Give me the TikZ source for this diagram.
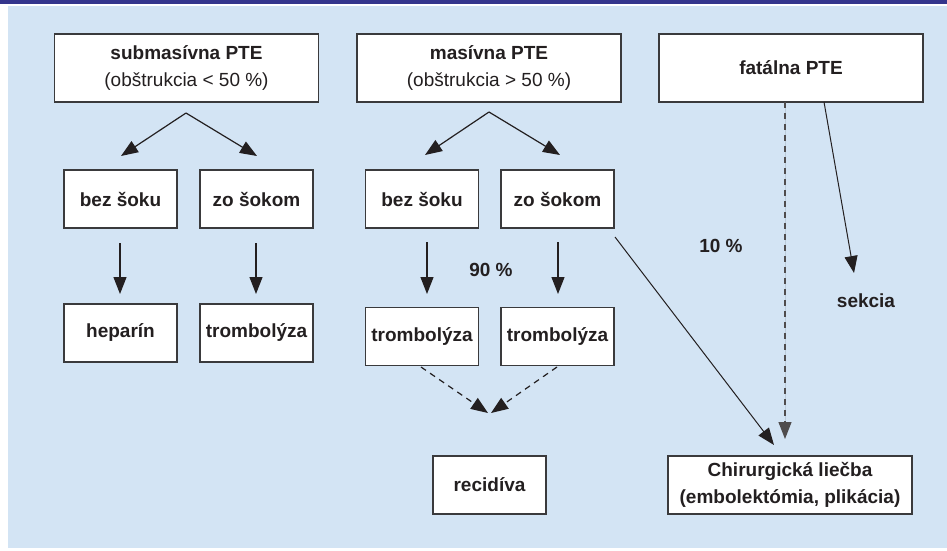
\documentclass[tikz,border=0pt]{standalone}
\usepackage{fontspec}
\setmainfont{Liberation Sans}
\usetikzlibrary{arrows.meta}
\definecolor{panelblue}{HTML}{D3E4F4}
\definecolor{barblue}{HTML}{34358C}
\definecolor{ink}{HTML}{231F20}
\definecolor{boxline}{HTML}{3A3A3C}
\begin{document}
\begin{tikzpicture}[x=1pt,y=-1pt,
  box/.style={draw=boxline,line width=1.4pt,fill=white,rectangle,inner sep=0pt,
    align=center,text=ink,font=\fontsize{19}{27}\selectfont\bfseries},
  small/.style={box,minimum width=113pt,minimum height=58pt},
  big/.style={box,minimum width=264pt,minimum height=68pt},
  arr/.style={draw=ink,line width=1.2pt,-{Triangle[length=17pt,width=13pt]}},
  darr/.style={arr,dash pattern=on 6pt off 5pt},
  lbl/.style={text=ink,font=\fontsize{19}{23}\selectfont\bfseries,inner sep=0pt}]
\useasboundingbox (0,0) rectangle (947,551);
\fill[white] (0,0) rectangle (947,551);
\fill[panelblue] (8,6) rectangle (947,548);
\fill[barblue] (0,0) rectangle (947,4);
% top boxes
\node[big] (sub) at (186.5,68) {submasívna PTE\\{\mdseries(obštrukcia < 50 \%)}};
\node[big] (mas) at (489,68) {masívna PTE\\{\mdseries(obštrukcia > 50 \%)}};
\node[big] (fat) at (791,68) {fatálna PTE};
% left column
\node[small] (bezL) at (120.5,199) {bez šoku};
\node[small] (zoL) at (256.5,199) {zo šokom};
\node[small] (hep) at (120.5,333) {heparín};
\node[small] (trL) at (256.5,333) {trombolýza};
% middle column
\node[small] (bezM) at (422,199) {bez šoku};
\node[small] (zoM) at (557.5,199) {zo šokom};
\node[small] (trM1) at (422,336.5) {trombolýza};
\node[small] (trM2) at (557.5,336.5) {trombolýza};
\node[small] (rec) at (489.5,485) {recidíva};
\node[box,minimum width=244pt,minimum height=58pt] (chir) at (790,485) {Chirurgická liečba\\(embolektómia, plikácia)};
% labels
\node[lbl] (p90) at (491,270) {90 \%};
\node[lbl] (p10) at (721,246) {10 \%};
\node[lbl] (sek) at (866,301) {sekcia};
% coordinates
\coordinate (aL) at (186,113);
\coordinate (aLl) at (121,156);
\coordinate (aLr) at (257,156);
\coordinate (aM) at (489,112);
\coordinate (aMl) at (425,155);
\coordinate (aMr) at (560,155);
\coordinate (dL1s) at (120,243); \coordinate (dL1e) at (120,294);
\coordinate (dL2s) at (256,243); \coordinate (dL2e) at (256,294);
\coordinate (dM1s) at (427,242); \coordinate (dM1e) at (427,294);
\coordinate (dM2s) at (558,242); \coordinate (dM2e) at (558,294);
\coordinate (r1s) at (421,367); \coordinate (r1e) at (488,413);
\coordinate (r2s) at (557,367); \coordinate (r2e) at (491,413);
\coordinate (cs) at (615,237); \coordinate (ce) at (774,445);
\coordinate (fds) at (785,102); \coordinate (fde) at (785,439);
\coordinate (fss) at (824,102); \coordinate (fse) at (854,273);
% connectors
\draw[arr] (aL) -- (aLl);
\draw[arr] (aL) -- (aLr);
\draw[arr] (aM) -- (aMl);
\draw[arr] (aM) -- (aMr);
\draw[arr] (dL1s) -- (dL1e);
\draw[arr] (dL2s) -- (dL2e);
\draw[arr] (dM1s) -- (dM1e);
\draw[arr] (dM2s) -- (dM2e);
\draw[darr] (r1s) -- (r1e);
\draw[darr] (r2s) -- (r2e);
\draw[arr,line width=1pt] (cs) -- (ce);
\draw[darr,draw=ink!80,fill=ink] (fds) -- (fde);
\draw[arr,line width=1pt] (fss) -- (fse);
\end{tikzpicture}
\end{document}
